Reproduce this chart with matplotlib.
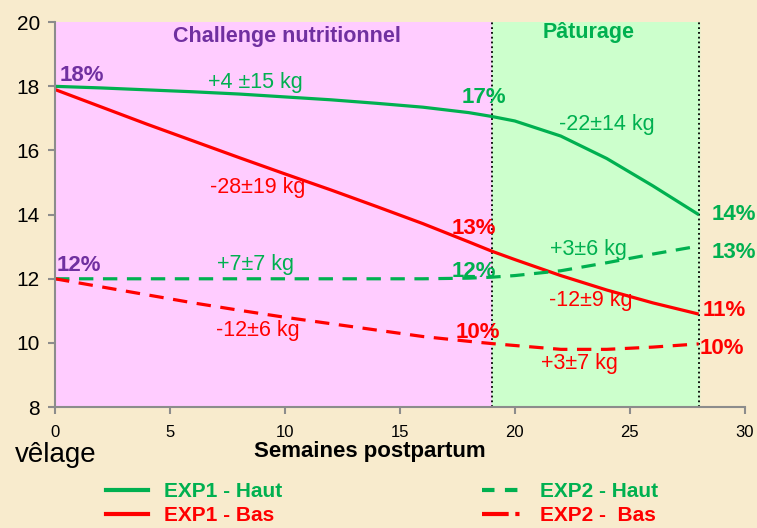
#
# import useful libraries
#
import matplotlib
matplotlib.use('Agg')
import matplotlib.pyplot as plt
from matplotlib.lines import Line2D

#
# data
#
weeks = [0, 2, 4, 6, 8, 10, 12, 14, 16, 18, 19, 20, 22, 24, 26, 28]
exp1_haut = [18.0, 17.95, 17.89, 17.83, 17.76, 17.67, 17.58, 17.47, 17.35, 17.18, 17.06, 16.92, 16.45, 15.75, 14.9, 14.0]
exp1_bas = [17.9, 17.36, 16.82, 16.3, 15.78, 15.27, 14.77, 14.25, 13.72, 13.15, 12.86, 12.6, 12.1, 11.65, 11.25, 10.9]
exp2_haut = [12.0, 12.0, 12.0, 12.0, 12.0, 12.0, 12.0, 12.0, 12.0, 12.02, 12.05, 12.1, 12.25, 12.5, 12.77, 13.02]
exp2_bas = [12.0, 11.75, 11.5, 11.25, 11.02, 10.8, 10.6, 10.4, 10.2, 10.05, 9.98, 9.92, 9.8, 9.8, 9.87, 9.97]

phase_limits = [0, 19, 28]
x_ticks = [0, 5, 10, 15, 20, 25, 30]
y_ticks = [8, 10, 12, 14, 16, 18, 20]

GREEN = '#00B050'
RED = '#FF0000'
PURPLE = '#7030A0'
BG = '#F8EBCD'

plt.rcParams['font.family'] = 'Liberation Sans'

fig = plt.figure(figsize=(7.57, 5.28), dpi=100, facecolor=BG)
ax = fig.add_axes([0.0727, 0.229, 0.911, 0.729])
ax.set_facecolor('none')

# phases
ax.axvspan(phase_limits[0], phase_limits[1], color='#FFCCFF', zorder=0)
ax.axvspan(phase_limits[1], phase_limits[2], color='#CCFFCC', zorder=0)
for xv in phase_limits[1:]:
    ax.axvline(xv, color='black', lw=1.3, ls=':', zorder=1)

# curves
lw = 2.3
ax.plot(weeks, exp1_haut, color=GREEN, lw=lw, solid_capstyle='butt')
ax.plot(weeks, exp1_bas, color=RED, lw=lw, solid_capstyle='butt')
ax.plot(weeks, exp2_haut, color=GREEN, lw=lw, dashes=(4.5, 3))
ax.plot(weeks, exp2_bas, color=RED, lw=lw, dashes=(4.5, 3))

ax.set_xlim(0, 30)
ax.set_ylim(8, 20)
ax.set_xticks(x_ticks)
ax.set_yticks(y_ticks)
for s in ['top', 'right']:
    ax.spines[s].set_visible(False)
for s in ['left', 'bottom']:
    ax.spines[s].set_color('#8C8C8C')
    ax.spines[s].set_linewidth(1.5)
ax.tick_params(axis='both', direction='out', length=5, width=1.5, color='#8C8C8C')
ax.tick_params(axis='y', labelsize=15, pad=6)
ax.tick_params(axis='x', labelsize=12, pad=8)

# phase titles
ax.text(10.1, 19.55, 'Challenge nutritionnel', color=PURPLE, fontsize=15.5, fontweight='bold', ha='center', va='center')
ax.text(23.2, 19.68, 'Pâturage', color=GREEN, fontsize=15.5, fontweight='bold', ha='center', va='center')

# percentages
bold = dict(fontsize=16, fontweight='bold', va='center')
ax.text(0.2, 18.35, '18%', color=PURPLE, ha='left', **bold)
ax.text(0.05, 12.4, '12%', color=PURPLE, ha='left', **bold)
ax.text(18.65, 17.66, '17%', color=GREEN, ha='center', **bold)
ax.text(18.2, 13.58, '13%', color=RED, ha='center', **bold)
ax.text(18.2, 12.22, '12%', color=GREEN, ha='center', **bold)
ax.text(18.4, 10.33, '10%', color=RED, ha='center', **bold)
ax.text(28.55, 14.0, '14%', color=GREEN, ha='left', **bold)
ax.text(28.55, 12.83, '13%', color=GREEN, ha='left', **bold)
ax.text(28.15, 11.02, '11%', color=RED, ha='left', **bold)
ax.text(28.05, 9.84, '10%', color=RED, ha='left', **bold)

# weight changes
norm = dict(fontsize=15.5, ha='center', va='center')
ax.text(8.7, 18.13, '+4 ±15 kg', color=GREEN, **norm)
ax.text(8.8, 14.86, '-28±19 kg', color=RED, **norm)
ax.text(8.7, 12.46, '+7±7 kg', color=GREEN, **norm)
ax.text(8.8, 10.4, '-12±6 kg', color=RED, **norm)
ax.text(24.0, 16.82, '-22±14 kg', color=GREEN, **norm)
ax.text(23.2, 12.9, '+3±6 kg', color=GREEN, **norm)
ax.text(23.3, 11.33, '-12±9 kg', color=RED, **norm)
ax.text(22.8, 9.37, '+3±7 kg', color=RED, **norm)

# axis labels
fig.text(0.02, 1 - 455 / 528, 'vêlage', fontsize=20, ha='left', va='center')
fig.text(370 / 757, 1 - 451 / 528, 'Semaines postpartum', fontsize=16, fontweight='bold',
         ha='center', va='center')

# legends
leg_font = dict(size=15, weight='bold')
h1 = [Line2D([], [], color=GREEN, lw=3), Line2D([], [], color=RED, lw=3)]
h2 = [Line2D([], [], color=GREEN, lw=3, dashes=(3, 2.5)), Line2D([], [], color=RED, lw=3, ls='-.')]
for handles, labels, x0 in [(h1, ['EXP1 - Haut', 'EXP1 - Bas'], 106), (h2, ['EXP2 - Haut', 'EXP2 -  Bas'], 482)]:
    fig.legend(handles, labels, loc='upper left', bbox_to_anchor=(x0 / 757, 1 - 482 / 528),
               frameon=False, prop=leg_font, labelcolor='linecolor', handlelength=2.0, handletextpad=0.8,
               labelspacing=0.25, borderpad=0, borderaxespad=0)

plt.savefig('out.png', dpi=100, facecolor=BG)
plt.close()
